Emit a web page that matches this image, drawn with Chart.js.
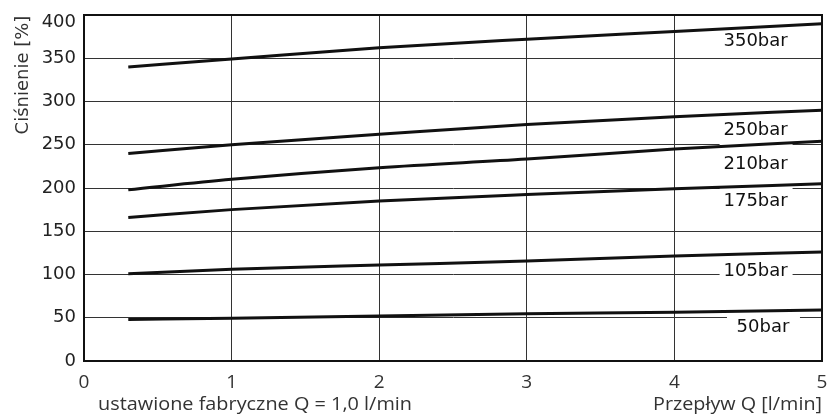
<!DOCTYPE html>
<html>
<head>
<meta charset="utf-8">
<script src="https://cdn.jsdelivr.net/npm/chart.js@4.4.0/dist/chart.umd.min.js"></script>
<style>
  html, body { margin: 0; padding: 0; background: #fff; }
  #wrap { width: 827px; height: 415px; }
</style>
</head>
<body>
<div id="wrap"><canvas id="chart" width="827" height="415"></canvas></div>
<script>
// flow values (l/min) where the curves were read
const flow = [0.3, 1, 2, 3, 4, 5];

// pressure [%] for each setting
const p350 = [340, 349, 362, 372, 381, 390];
const p250 = [240, 250, 262, 273.5, 282.5, 290];
const p210 = [198, 210, 223.5, 233.5, 245, 254];
const p175 = [166, 175, 185, 192.5, 199, 205];
const p105 = [101, 106, 111, 115.6, 121.5, 126];
const p50 = [48, 49.5, 52, 54.5, 56.3, 59];

const seriesNames = ["350bar", "250bar", "210bar", "175bar", "105bar", "50bar"];
const seriesData = [p350, p250, p210, p175, p105, p50];

const yTicks = [0, 50, 100, 150, 200, 250, 300, 350, 400];
const xTicks = [0, 1, 2, 3, 4, 5];

// where the series name sits (data coords)
const labelAt = [
  { x: 4.55, y: 370.5 },
  { x: 4.55, y: 268 },
  { x: 4.55, y: 229 },
  { x: 4.55, y: 185.5 },
  { x: 4.55, y: 105 },
  { x: 4.6, y: 40 }
];

const datasets = seriesData.map((vals, i) => ({
  label: seriesNames[i],
  data: vals.map((v, j) => ({ x: flow[j], y: v })),
  borderColor: "#111",
  borderWidth: 3,
  pointRadius: 0,
  fill: false,
  cubicInterpolationMode: "monotone"
}));

const labelFont = "18px 'DejaVu Sans', sans-serif";

// draw text squeezed/stretched to a given width
function drawFit(ctx, text, x, y, width, align) {
  const w = ctx.measureText(text).width;
  const k = width / w;
  ctx.save();
  ctx.textAlign = "left";
  const left = align === "right" ? x - width : x;
  ctx.translate(left, y);
  ctx.scale(k, 1);
  ctx.fillText(text, 0, 0);
  ctx.restore();
}

// white boxes behind the names cut the grid, lines go on top
const textPlugin = {
  id: "texts",
  beforeDatasetsDraw(chart) {
    const ctx = chart.ctx;
    const xs = chart.scales.x, ys = chart.scales.y;
    ctx.save();
    ctx.fillStyle = "#fff";
    labelAt.forEach((p) => {
      const px = xs.getPixelForValue(p.x);
      const py = ys.getPixelForValue(p.y);
      ctx.fillRect(px - 36, py - 14, 73, 30);
    });
    ctx.restore();
  },
  afterDatasetsDraw(chart) {
    const ctx = chart.ctx;
    const xs = chart.scales.x, ys = chart.scales.y;
    ctx.save();
    ctx.font = labelFont;
    ctx.textAlign = "center";
    ctx.textBaseline = "middle";
    ctx.fillStyle = "#111";
    seriesNames.forEach((name, i) => {
      const px = xs.getPixelForValue(labelAt[i].x);
      const py = ys.getPixelForValue(labelAt[i].y);
      ctx.fillText(name, px, py + 1);
    });

    // top tick label sits a bit lower than its grid line
    ctx.fillStyle = "#222";
    ctx.textAlign = "right";
    ctx.fillText(String(yTicks[yTicks.length - 1]), 76, ys.top + 7);

    // y axis title
    ctx.save();
    ctx.translate(23, 75);
    ctx.rotate(-Math.PI / 2);
    ctx.font = "18px 'DejaVu Sans', sans-serif";
    ctx.fillStyle = "#333";
    ctx.textAlign = "center";
    ctx.fillText("Ciśnienie [%]", 0, 0);
    ctx.restore();

    ctx.font = "18px 'Open Sans', sans-serif";
    ctx.fillStyle = "#333";
    ctx.textBaseline = "middle";
    drawFit(ctx, "ustawione fabryczne Q = 1,0 l/min", 98, 405, 314, "left");
    drawFit(ctx, "Przepływ Q [l/min]", 822, 405, 169, "right");
    ctx.restore();
  },
  afterDraw(chart) {
    const a = chart.chartArea, ctx = chart.ctx;
    ctx.save();
    ctx.strokeStyle = "#111";
    ctx.lineWidth = 2;
    ctx.strokeRect(a.left, a.top, a.right - a.left, a.bottom - a.top);
    ctx.restore();
  }
};

new Chart(document.getElementById("chart"), {
  type: "line",
  data: { datasets: datasets },
  options: {
    responsive: false,
    animation: false,
    layout: { padding: { top: 15, right: 5, left: 0, bottom: 0 } },
    plugins: { legend: { display: false }, tooltip: { enabled: false } },
    scales: {
      x: {
        type: "linear",
        min: 0,
        max: 5,
        afterBuildTicks: (s) => { s.ticks = xTicks.map(v => ({ value: v })); },
        afterFit: (s) => { s.height = 54; s.paddingLeft = 0; s.paddingRight = 0; },
        grid: { color: "#333", lineWidth: 1, drawTicks: false },
        border: { color: "#111", width: 2 },
        ticks: {
          color: "#333",
          padding: 10,
          font: { family: "'Open Sans', sans-serif", size: 19 }
        }
      },
      y: {
        min: 0,
        max: 400,
        afterBuildTicks: (s) => { s.ticks = yTicks.map(v => ({ value: v })); },
        afterFit: (s) => { s.width = 84; s.paddingTop = 0; s.paddingBottom = 0; },
        grid: { color: "#333", lineWidth: 1, drawTicks: false },
        border: { color: "#111", width: 2 },
        ticks: {
          color: "#222",
          padding: 8,
          font: { family: "'DejaVu Sans', sans-serif", size: 18 },
          callback: (v) => (v === 400 ? "" : v)
        }
      }
    }
  },
  plugins: [textPlugin]
});
</script>
</body>
</html>
